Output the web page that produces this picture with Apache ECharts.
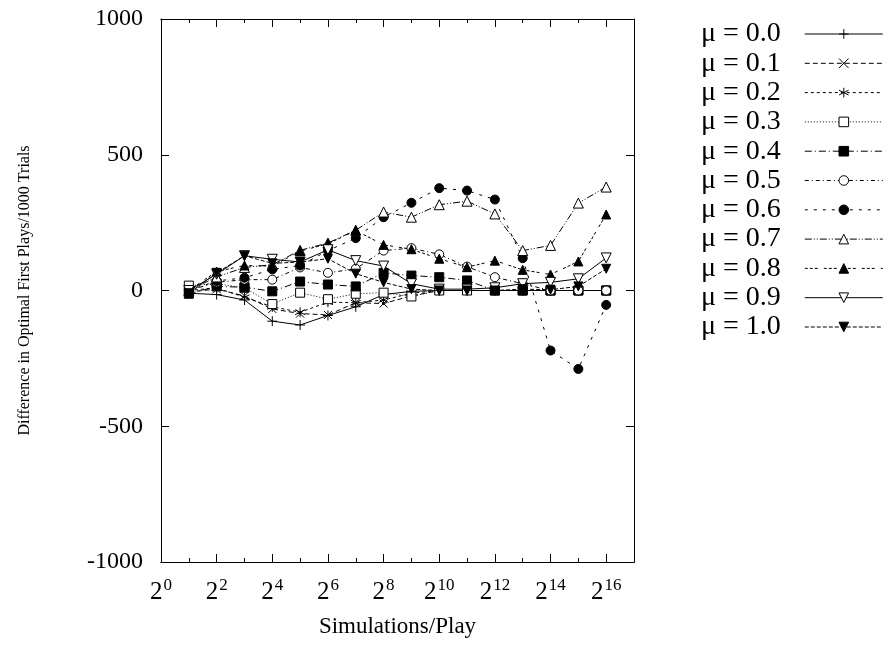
<!DOCTYPE html>
<html><head><meta charset="utf-8">
<script src="https://cdn.jsdelivr.net/npm/echarts@6/dist/echarts.min.js"></script>
<style>html,body{margin:0;padding:0;background:#fff}#c{width:888px;height:656px}</style>
</head><body><div id="c"></div>
<script>
const exps = [1,2,3,4,5,6,7,8,9,10,11,12,13,14,15,16];
const seriesNames = ['μ = 0.0','μ = 0.1','μ = 0.2','μ = 0.3','μ = 0.4','μ = 0.5','μ = 0.6','μ = 0.7','μ = 0.8','μ = 0.9','μ = 1.0'];
const mu00 = [-10, -15, -35, -113, -127, -92, -60, -15, -3, 0, 0, 0, 0, 0, 0, 0];
const mu01 = [-5, 5, -20, -68, -85, -90, -45, -48, -20, 0, 0, 0, 0, 0, 0, 0];
const mu02 = [0, 10, -25, -60, -80, -43, -45, -35, -10, 0, 0, 0, 0, 0, 0, 0];
const mu03 = [18, 25, 10, -50, -8, -32, -12, -8, -22, 0, 0, 0, 0, 0, 0, 0];
const mu04 = [-12, 15, 12, -3, 33, 22, 15, 65, 55, 49, 37, 0, 0, 0, 0, 0];
const mu05 = [0, 30, 40, 40, 85, 65, 80, 147, 156, 133, 88, 49, 25, 0, 0, 0];
const mu06 = [0, 35, 47, 78, 92, 147, 193, 270, 323, 377, 368, 335, 119, -221, -289, -53];
const mu07 = [0, 50, 85, 95, 148, 175, 222, 289, 270, 316, 329, 282, 147, 166, 322, 381];
const mu08 = [0, 70, 92, 90, 145, 172, 221, 168, 152, 117, 86, 110, 76, 59, 107, 280];
const mu09 = [0, 60, 128, 115, 105, 150, 110, 90, 25, 5, 5, 10, 25, 30, 43, 120];
const mu10 = [-10, 65, 128, 100, 105, 117, 62, 30, 5, 0, 0, 0, 5, 3, 15, 80];
const yTicks = [-1000, -500, 0, 500, 1000];

const allVals = [mu00,mu01,mu02,mu03,mu04,mu05,mu06,mu07,mu08,mu09,mu10];
const FONT = 'Liberation Serif';
const plus = 'path://M5,0L5,10M0,5L10,5';
const cross = 'path://M0,0L10,10M0,10L10,0';
const star = 'path://M5,0L5,10M0.7,2.5L9.3,7.5M0.7,7.5L9.3,2.5';
const tri = 'path://M5,0L10,9L0,9Z';
const itri = 'path://M0,0L10,0L5,9Z';
const sq = 'path://M0,0L10,0L10,10L0,10Z';
const styles = [
  {sym: plus, size: 10, fill: 'none', dash: 'solid'},
  {sym: cross, size: 8, fill: 'none', dash: [5,3]},
  {sym: star, size: 10, fill: 'none', dash: [3,3]},
  {sym: sq, size: 9, fill: '#fff', dash: [1,2]},
  {sym: sq, size: 9, fill: '#000', dash: [7,3,1,3]},
  {sym: 'circle', size: 9, fill: '#fff', dash: [4,3,1,3]},
  {sym: 'circle', size: 9, fill: '#000', dash: [3,6]},
  {sym: tri, size: 10, fill: '#fff', dash: [7,2,1,2,1,2]},
  {sym: tri, size: 9, fill: '#000', dash: [3,2,3,2,3,6]},
  {sym: itri, size: 10, fill: '#fff', dash: 'solid'},
  {sym: itri, size: 9, fill: '#000', dash: [4,2]}
];

const series = allVals.map((vals, k) => ({
  name: seriesNames[k],
  type: 'line',
  xAxisIndex: 0, yAxisIndex: 0,
  data: exps.map((e, i) => [e, vals[i]]),
  symbol: styles[k].sym,
  symbolSize: styles[k].size,
  showAllSymbol: true,
  animation: false,
  color: '#000',
  lineStyle: {color: '#000', width: 1, type: styles[k].dash},
  itemStyle: {color: styles[k].fill, borderColor: '#000', borderWidth: 1},
  emphasis: {disabled: true},
  z: 2 + k
}));

const chart = echarts.init(document.getElementById('c'), null, {renderer: 'canvas'});
const baseX = {type: 'value', min: 0, max: 17, gridIndex: 0,
  splitLine: {show: false}, axisLine: {show: true, onZero: false, lineStyle: {color: '#000', width: 1}}};
chart.setOption({
  animation: false,
  backgroundColor: '#fff',
  grid: {left: 161, right: 254, top: 19, bottom: 94, containLabel: false},
  legend: {
    orient: 'vertical', left: 696, top: 15, align: 'right',
    itemWidth: 78, itemHeight: 12, itemGap: 1.3,
    selectedMode: false,
    lineStyle: {width: 1},
    itemStyle: {borderWidth: 1},
    textStyle: {fontFamily: FONT, fontSize: 28, color: '#000', lineHeight: 24, padding: [0, 19, 0, 0]},
    data: seriesNames
  },
  xAxis: [
    Object.assign({}, baseX, {position: 'bottom', interval: 2,
      name: 'Simulations/Play', nameLocation: 'middle', nameGap: 53,
      nameTextStyle: {fontFamily: FONT, fontSize: 23, color: '#000'},
      axisTick: {show: true, inside: true, length: 8, lineStyle: {color: '#000'}},
      axisLabel: {margin: 15, color: '#000', fontFamily: FONT,
        formatter: v => (v % 2 === 0 && v <= 16) ? '{b|2}{s|' + v + '}' : '',
        rich: {b: {fontSize: 25, fontFamily: FONT, color: '#000', verticalAlign: 'bottom', lineHeight: 28},
               s: {fontSize: 17, fontFamily: FONT, color: '#000', verticalAlign: 'top', lineHeight: 28, padding: [0,0,0,1]}}}}),
    Object.assign({}, baseX, {position: 'bottom', interval: 1,
      axisTick: {show: true, inside: true, length: 4, lineStyle: {color: '#000'}}, axisLabel: {show: false}}),
    Object.assign({}, baseX, {position: 'top', interval: 2,
      axisTick: {show: true, inside: true, length: 8, lineStyle: {color: '#000'}}, axisLabel: {show: false}}),
    Object.assign({}, baseX, {position: 'top', interval: 1,
      axisTick: {show: true, inside: true, length: 4, lineStyle: {color: '#000'}}, axisLabel: {show: false}})
  ],
  yAxis: [
    {type: 'value', min: yTicks[0], max: yTicks[yTicks.length-1], interval: 500, position: 'left',
     name: 'Difference in Optimal First Plays/1000 Trials', nameLocation: 'middle', nameGap: 128, nameRotate: 90,
     nameTextStyle: {fontFamily: FONT, fontSize: 16, color: '#000'},
     splitLine: {show: false},
     axisLine: {show: true, onZero: false, lineStyle: {color: '#000', width: 1}},
     axisTick: {show: true, inside: true, length: 8, lineStyle: {color: '#000'}},
     axisLabel: {margin: 18, color: '#000', fontFamily: FONT, fontSize: 24, formatter: v => String(v)}},
    {type: 'value', min: yTicks[0], max: yTicks[yTicks.length-1], interval: 500, position: 'right',
     splitLine: {show: false},
     axisLine: {show: true, onZero: false, lineStyle: {color: '#000', width: 1}},
     axisTick: {show: true, inside: true, length: 8, lineStyle: {color: '#000'}},
     axisLabel: {show: false}}
  ],
  series: series
});
</script>
</body></html>
